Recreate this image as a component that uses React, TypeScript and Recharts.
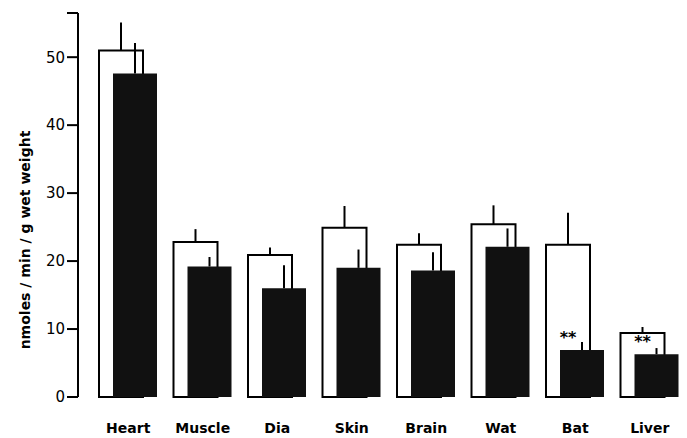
import { Bar, BarChart, ErrorBar, LabelList, XAxis, YAxis } from "recharts";

const categories = ["Heart", "Muscle", "Dia", "Skin", "Brain", "Wat", "Bat", "Liver"];
const whiteValues = [51.0, 22.8, 20.9, 24.9, 22.4, 25.4, 22.4, 9.4];
const whiteErrors = [4.1, 1.9, 1.1, 3.2, 1.7, 2.8, 4.7, 0.9];
const blackValues = [47.6, 19.2, 16.0, 19.0, 18.6, 22.1, 6.9, 6.3];
const blackErrors = [4.5, 1.4, 3.4, 2.7, 2.7, 2.7, 1.2, 0.9];
const significance = ["", "", "", "", "", "", "**", "**"];
const yTicks = [0, 10, 20, 30, 40, 50, 56.5];

const data = categories.map((name, i) => ({
  name,
  white: whiteValues[i],
  whiteErr: [0, whiteErrors[i]],
  black: blackValues[i],
  blackErr: [0, blackErrors[i]],
  sig: significance[i],
}));

const font = "'DejaVu Sans', sans-serif";

function YLabel() {
  return (
    <text
      x={25}
      y={240}
      transform="rotate(-90 25 240)"
      textAnchor="middle"
      dominantBaseline="central"
      fontFamily={font}
      fontSize={14}
      fontWeight="bold"
      fill="#000"
    >
      nmoles / min / g wet weight
    </text>
  );
}

function Stars(props: any) {
  const { x, y, value } = props;
  if (!value) return null;
  return (
    <text
      x={Number(x) + 8}
      y={Number(y) - 7}
      textAnchor="middle"
      fontFamily={font}
      fontSize={16}
      fontWeight="bold"
      fill="#000"
    >
      {value}
    </text>
  );
}

export default function App() {
  return (
    <div style={{ position: "absolute", left: 0, top: 0, background: "#fff" }}>
      <BarChart
        width={687}
        height={438}
        data={data}
        margin={{ top: 13, right: 0, bottom: 11, left: 0 }}
        barSize={44}
        barGap={-30}
        barCategoryGap={0}
      >
        <XAxis
          dataKey="name"
          height={30}
          axisLine={false}
          tickLine={false}
          tickSize={0}
          tickMargin={26}
          padding={{ left: 13, right: 0 }}
          interval={0}
          tick={{ fontFamily: font, fontSize: 14, fontWeight: 600, fill: "#000" }}
        />
        <YAxis
          width={78}
          domain={[0, 56.5]}
          ticks={yTicks}
          tickSize={11}
          tickFormatter={(v: number) => (v > 50 ? "" : String(v))}
          axisLine={{ stroke: "#000", strokeWidth: 2 }}
          tickLine={{ stroke: "#000", strokeWidth: 2 }}
          tick={{ fontFamily: font, fontSize: 15, fill: "#000" }}
          label={<YLabel />}
        />
        <Bar dataKey="white" fill="#fff" stroke="#000" strokeWidth={2} isAnimationActive={false}>
          <ErrorBar dataKey="whiteErr" width={0} stroke="#000" strokeWidth={2} direction="y" />
        </Bar>
        <Bar dataKey="black" fill="#111" isAnimationActive={false}>
          <ErrorBar dataKey="blackErr" width={0} stroke="#000" strokeWidth={2} direction="y" />
          <LabelList dataKey="sig" content={<Stars />} />
        </Bar>
      </BarChart>
    </div>
  );
}
